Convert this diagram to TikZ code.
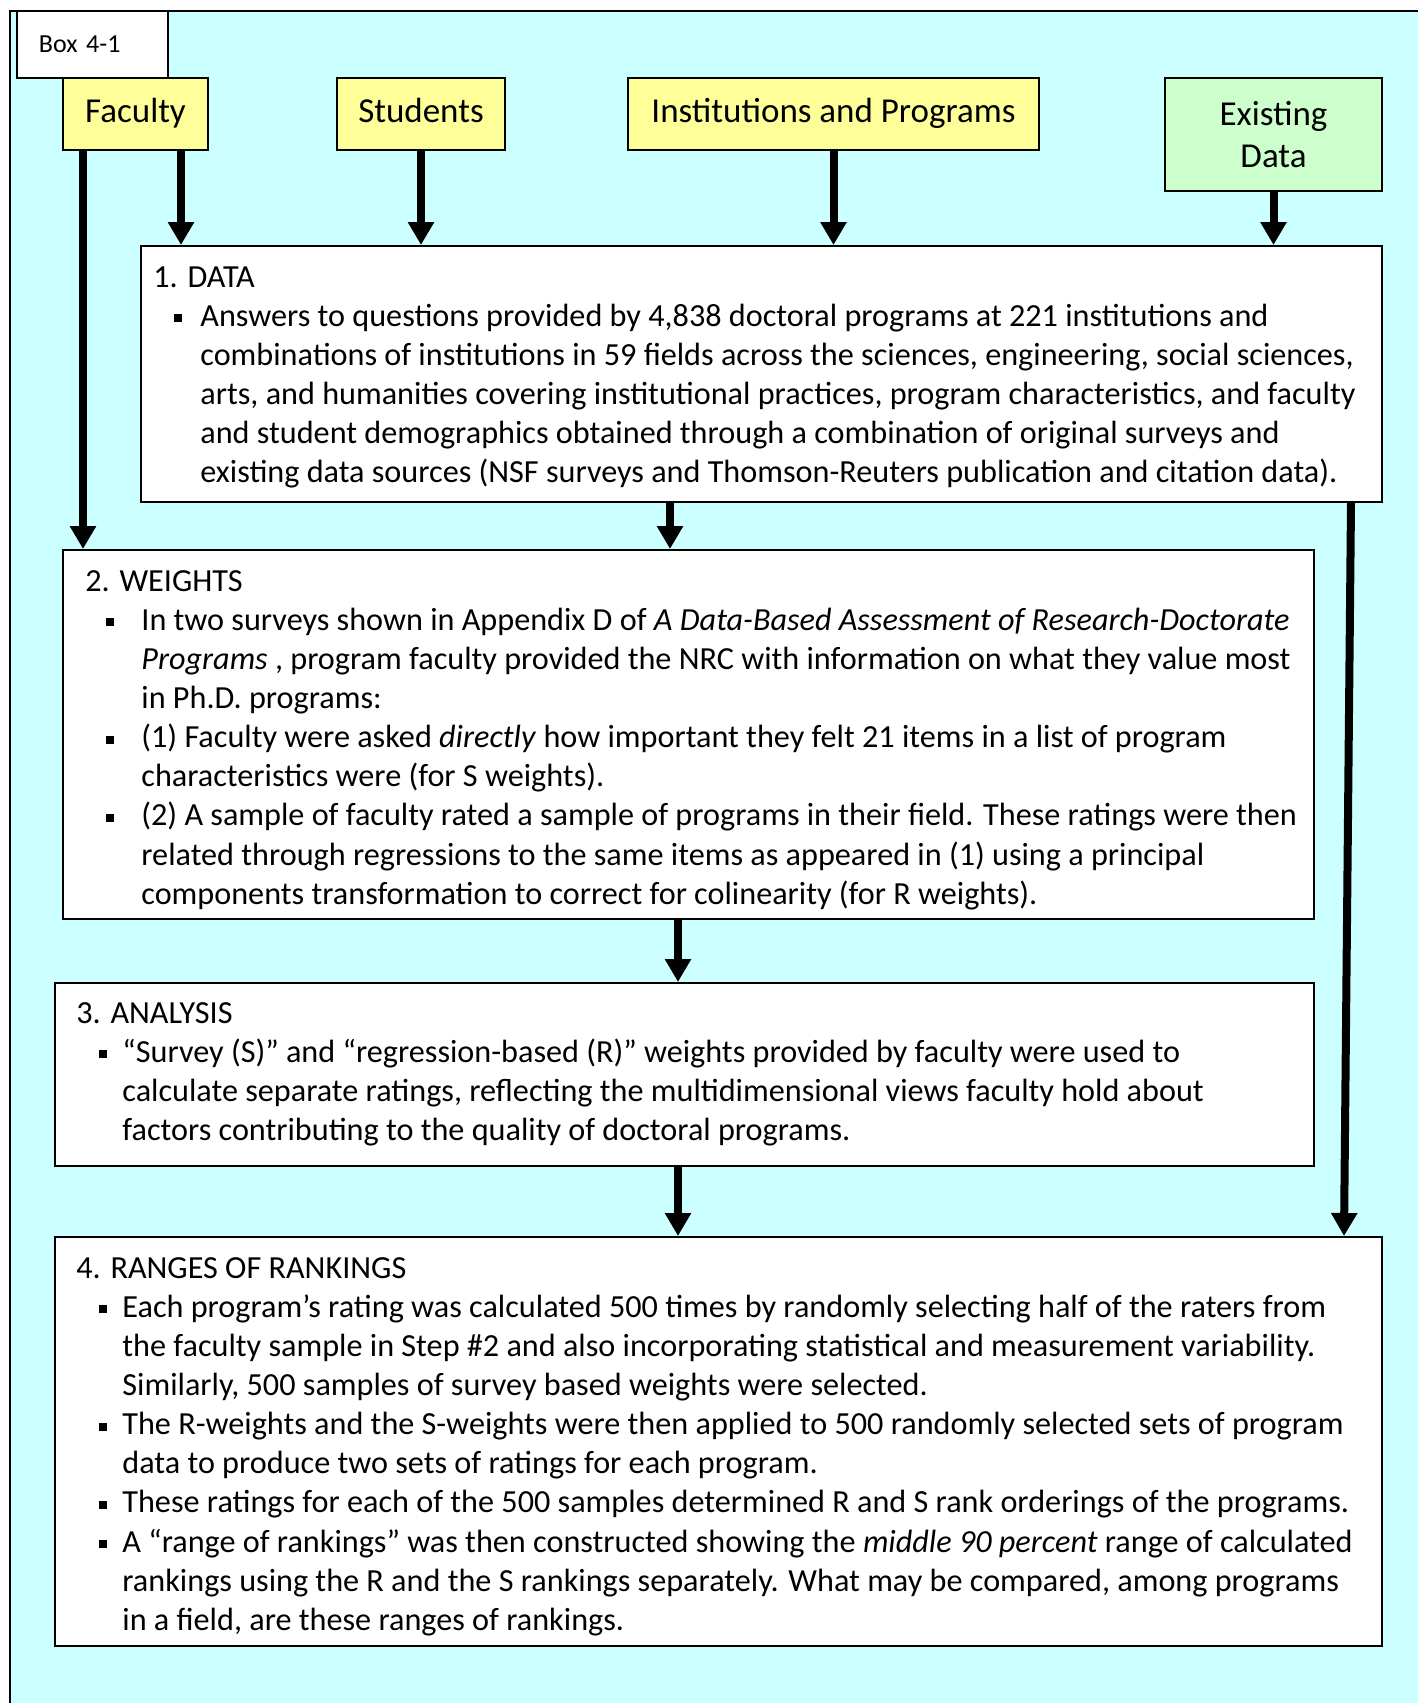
\documentclass[tikz,border=0pt]{standalone}
\usepackage{fontspec}
\setmainfont{Carlito}
\usetikzlibrary{arrows.meta}

\definecolor{bgcyan}{HTML}{CCFFFF}
\definecolor{hdryellow}{HTML}{FFFF99}
\definecolor{hdrgreen}{HTML}{CCFFCC}

\newcommand\bodyfont{\fontsize{16.1}{19.55}\selectfont}
\newcommand\bul{\rule[2.1pt]{4pt}{4pt}}
% indent, bullet column
\newcommand\bulitem[2]{\hspace*{#1}\makebox[#2][l]{\bul}}
\newcommand\bulcont[1]{\hspace*{#1}}

\begin{document}
\begin{tikzpicture}[x=0.5pt,y=-0.5pt,
		box/.style={draw,fill=white,line width=1pt,inner sep=0pt},
		hdr/.style={box,fill=hdryellow,font=\fontsize{17.5}{21}\selectfont,align=center},
		txt/.style={anchor=north west,align=left,inner sep=0pt,font=\bodyfont},
		arr/.style={line width=4pt,-{Triangle[width=12.5pt,length=11.5pt]}}]

		\useasboundingbox (0,0) rectangle (1418,1703);
		\draw[line width=1pt,fill=bgcyan] (10,11) rectangle (1440,1725);

		% sources
		\node[box,minimum width=75.5pt,minimum height=33.5pt,inner xsep=11pt,
			text width=53.5pt,align=left,font=\fontsize{13}{15}\selectfont] (box41) at (92.5,44.5) {Box 4-1};
		\node[hdr,minimum width=72.5pt,minimum height=36pt] (faculty) at (135.5,114) {\strut Faculty};
		\node[hdr,minimum width=84pt,minimum height=36pt] (students) at (421,114) {\strut Students};
		\node[hdr,minimum width=205.5pt,minimum height=36pt] (inst) at (833.5,114) {\strut Institutions and Programs};
		\node[hdr,fill=hdrgreen,minimum width=108.5pt,minimum height=56.5pt] (existing) at (1273.5,134.5) {Existing\\Data};

		% steps
		\node[box,minimum width=620.5pt,minimum height=128pt] (data) at (761.5,374) {};
		\node[box,minimum width=625.5pt,minimum height=184.5pt] (weights) at (688.5,734.5) {};
		\node[box,minimum width=629.5pt,minimum height=91.5pt] (analysis) at (684.5,1074.5) {};
		\node[box,minimum width=663.5pt,minimum height=204.5pt] (ranges) at (718.5,1441.5) {};

		\node[txt] (datatxt) at (153,259.6) {\strut 1. DATA\\
			\bulitem{10.5pt}{13pt}Answers to questions provided by 4,838 doctoral programs at 221 institutions and\\
			\bulcont{23.5pt}combinations of institutions in 59 fields across the sciences, engineering, social sciences,\\
			\bulcont{23.5pt}arts, and humanities covering institutional practices, program characteristics, and faculty\\
			\bulcont{23.5pt}and student demographics obtained through a combination of original surveys and\\
			\bulcont{23.5pt}existing data sources (NSF surveys and Thomson-Reuters publication and citation data).};

		\node[txt] (weightstxt) at (85,563.6) {\strut 2. WEIGHTS\\
			\bulitem{10.5pt}{17.5pt}In two surveys shown in Appendix D of \textit{A Data-Based Assessment of Research-Doctorate}\\
			\bulcont{28pt}\textit{Programs} , program faculty provided the NRC with information on what they value most\\
			\bulcont{28pt}in Ph.D. programs:\\
			\bulitem{10.5pt}{17.5pt}(1) Faculty were asked \textit{directly} how important they felt 21 items in a list of program\\
			\bulcont{28pt}characteristics were (for S weights).\\
			\bulitem{10.5pt}{17.5pt}(2) A sample of faculty rated a sample of programs in their field. These ratings were then\\
			\bulcont{28pt}related through regressions to the same items as appeared in (1) using a principal\\
			\bulcont{28pt}components transformation to correct for colinearity (for R weights).};

		\node[txt] (analysistxt) at (76,995.6) {\strut 3. ANALYSIS\\
			\bulitem{11.5pt}{11.5pt}“Survey (S)” and “regression-based (R)” weights provided by faculty were used to\\
			\bulcont{23pt}calculate separate ratings, reflecting the multidimensional views faculty hold about\\
			\bulcont{23pt}factors contributing to the quality of doctoral programs.};

		\node[txt] (rangestxt) at (76,1250.6) {\strut 4. RANGES OF RANKINGS\\
			\bulitem{11.5pt}{11.5pt}Each program’s rating was calculated 500 times by randomly selecting half of the raters from\\
			\bulcont{23pt}the faculty sample in Step \#2 and also incorporating statistical and measurement variability.\\
			\bulcont{23pt}Similarly, 500 samples of survey based weights were selected.\\
			\bulitem{11.5pt}{11.5pt}The R-weights and the S-weights were then applied to 500 randomly selected sets of program\\
			\bulcont{23pt}data to produce two sets of ratings for each program.\\
			\bulitem{11.5pt}{11.5pt}These ratings for each of the 500 samples determined R and S rank orderings of the programs.\\
			\bulitem{11.5pt}{11.5pt}A “range of rankings” was then constructed showing the \textit{middle 90 percent} range of calculated\\
			\bulcont{23pt}rankings using the R and the S rankings separately. What may be compared, among programs\\
			\bulcont{23pt}in a field, are these ranges of rankings.};

		% arrows
		\draw[arr] ([xshift=10.5pt]faculty.south west) coordinate (f1) -- (f1 |- weights.north);
		\draw[arr] ([xshift=59.5pt]faculty.south west) coordinate (f2) -- (f2 |- data.north);
		\draw[arr] (students.south) -- (students.south |- data.north);
		\draw[arr] (inst.south) -- (inst.south |- data.north);
		\draw[arr] (existing.south) -- (existing.south |- data.north);
		\draw[arr] ([xshift=265pt]data.south west) coordinate (d1) -- (d1 |- weights.north);
		\draw[arr] ([xshift=308pt]weights.south west) coordinate (w1) -- (w1 |- analysis.north);
		\draw[arr] ([xshift=312pt]analysis.south west) coordinate (a1) -- (a1 |- ranges.north);
		\draw[arr] ([xshift=-16pt]data.south east) -- ([xshift=-19.5pt]ranges.north east);

		\end{tikzpicture}
\end{document}
